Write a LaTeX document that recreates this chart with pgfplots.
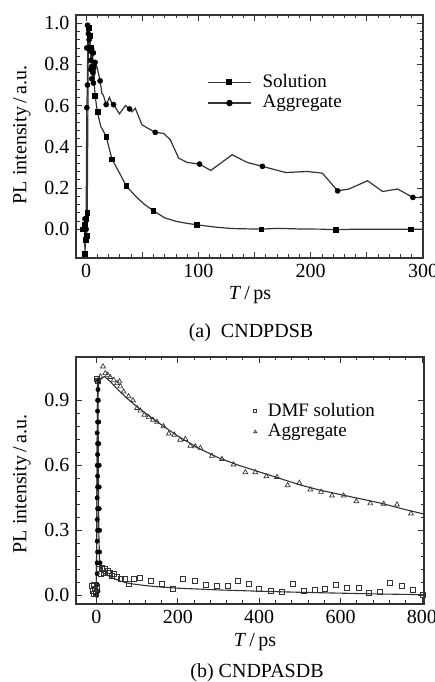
\documentclass[border=0pt]{standalone}
\usepackage{pgfplots}
\pgfplotsset{compat=1.18}
\usepackage{fontspec}
\setmainfont{Liberation Serif}
\definecolor{ink}{HTML}{333333}

\begin{document}
\fontsize{19pt}{22pt}\selectfont
\begin{tikzpicture}
\pgfplotsset{
  every axis/.append style={
    scale only axis, anchor=south west,
    axis line style={ink, line width=1.1pt},
    every tick/.style={ink, line width=0.8pt},
    tick align=inside,
    major tick length=6pt, minor tick length=3.5pt,
    minor tick num=4,
    /pgf/number format/assume math mode=true,
    tick label style={font=\fontsize{20}{22}\selectfont},
    yticklabel style={/pgf/number format/.cd, fixed, fixed zerofill, precision=1},
    legend style={draw=none, fill=none, font=\fontsize{19}{22}\selectfont,
      row sep=1pt, inner sep=0pt,
      /tikz/every odd column/.append style={column sep=9pt}},
    legend cell align=left,
    clip=true,
  },
}

% ---------- (a) CNDPDSB ----------
\begin{axis}[
  at={(76pt,424pt)}, width=347pt, height=243pt,
  xmin=-9, xmax=300, ymin=-0.14, ymax=1.04,
  xtick={0,50,...,300}, xticklabels={0,,100,,200,,300},
  ytick={0,0.2,...,1.0},
  legend style={at={(0.378,0.765)}, anchor=north west},
  legend image code/.code={\draw[#1, mark repeat=2, mark phase=2]
    plot coordinates {(0pt,0pt) (21.5pt,0pt) (43pt,0pt)};},
]
\addlegendimage{ink, line width=1.2pt, mark=square*, mark size=2.4pt, mark options={black}}
\addlegendentry{Solution}
\addlegendimage{ink, line width=1.2pt, mark=*, mark size=2.6pt, mark options={black}}
\addlegendentry{Aggregate}
% Solution line
\addplot[ink, line width=1.2pt, forget plot] coordinates {
  (-3,0.0) (-1.5,0.02) (-1,-0.12) (0,0.05) (0.5,-0.03) (1,0.08)
  (1.5,0.5) (2,0.98) (2.5,0.99) (3,0.94) (4,0.88) (5,0.83) (6,0.79)
  (7,0.72) (8,0.65) (10,0.57) (13,0.50) (17.9,0.45) (23,0.34) (30,0.27)
  (35.7,0.21) (45,0.155) (52,0.12) (59.8,0.09) (70,0.055) (80,0.038)
  (90,0.028) (98.8,0.021) (115,0.01) (130,0.003) (156,0.0) (170,0.004)
  (190,0.001) (210,0.0) (222,-0.003) (240,0.0) (260,0.0) (289,0.0) (300,0.0)
};
\addplot[only marks, mark=square*, mark size=2.4pt, black, forget plot] coordinates {
  (-3,0.0) (-1.5,0.02) (-1,-0.12) (-0.5,-0.05) (0,0.05) (0.5,-0.03) (1,0.08)
  (2,0.98) (3,0.94) (4,0.88) (6,0.79) (8,0.65) (10,0.57) (17.9,0.45)
  (23,0.34) (35.7,0.21) (59.8,0.09) (98.8,0.021) (156,0.0) (222,-0.003) (289,0.0)
};
% Aggregate line
\addplot[ink, line width=1.2pt, forget plot] coordinates {
  (-3,0.0) (-1,0.05) (0,0.0) (0.6,0.59) (1.2,0.70) (1.5,0.99) (2,0.95)
  (2.7,0.92) (3,0.88) (4.2,0.864) (4.2,0.82) (6.5,0.856) (5,0.79) (8,0.81)
  (4.2,0.775) (6,0.76) (5,0.73) (6.5,0.71) (9,0.80) (10,0.78) (12.5,0.72)
  (14,0.66) (15.4,0.65) (17.9,0.605) (20.8,0.64) (23,0.61) (24.4,0.605)
  (29.7,0.56) (35,0.60) (38.7,0.584) (41,0.57) (43.8,0.587) (49.7,0.507)
  (55,0.49) (61.6,0.47) (69,0.465) (75,0.434) (82.4,0.345) (90,0.324)
  (101,0.316) (111,0.285) (130,0.361) (143.5,0.324) (157,0.305)
  (177.7,0.275) (197,0.28) (210.4,0.272) (224,0.186) (234,0.195)
  (250.6,0.235) (264,0.183) (277.4,0.195) (291,0.154) (300,0.154)
};
\addplot[only marks, mark=*, mark size=2.6pt, black, forget plot] coordinates {
  (-2,0.0) (-1,0.05) (0,0.0) (0.6,0.59) (1.2,0.70) (1.2,0.99) (2,0.95)
  (2.7,0.92) (0.6,0.88) (4.2,0.864) (6.5,0.856) (4.2,0.82) (8,0.81)
  (5,0.79) (4.2,0.775) (6,0.76) (5,0.73) (6.5,0.71) (12.5,0.72)
  (17.9,0.605) (24.4,0.605) (38.7,0.584) (61.6,0.47) (101,0.316)
  (157,0.305) (224,0.186) (291,0.154)
};
\end{axis}

% ---------- (b) CNDPASDB ----------
\begin{axis}[
  at={(76pt,78pt)}, width=348pt, height=247pt,
  xmin=-50, xmax=805, ymin=-0.04, ymax=1.1,
  xtick={0,200,...,800},
  ytick={0,0.3,0.6,0.9},
  legend style={at={(0.51,0.822)}, anchor=north west},
  legend image code/.code={\draw[#1] plot coordinates {(0pt,0pt)};},
]
\addlegendimage{only marks, mark=square, mark size=1.5pt, ink, line width=0.7pt}
\addlegendentry{DMF solution}
\addlegendimage{only marks, mark=triangle, mark size=1.8pt, ink, line width=0.7pt}
\addlegendentry{Aggregate}
% dense early-time points
\addplot[only marks, mark=*, mark size=2.2pt, black, forget plot] coordinates {
  (2,0.05) (2,0.10) (2,0.15) (3,0.20) (2,0.25) (3,0.30) (2,0.35) (3,0.40)
  (2,0.45) (3,0.50) (3,0.55) (2,0.60) (3,0.65) (3,0.70) (2,0.75) (3,0.80)
  (3,0.85) (3,0.90) (4,0.95) (5,0.90) (6,0.80) (6,0.70) (7,0.60) (7,0.50)
  (7,0.40) (8,0.30) (8,0.20) (9,0.15) (5,0.99) (4,0.02) (1,0.0)
};
% DMF solution
\addplot[only marks, mark=square, mark size=2.5pt, ink, line width=0.7pt, forget plot] coordinates {
  (-10,0.045) (-8,0.02) (-6,0.05) (-5,0.005) (-3,0.03) (-2,0.01) (0,0.04)
  (2,1.0) (4,0.99) (5.7,0.12) (10,0.10) (14,0.127) (18,0.105) (22,0.12)
  (28,0.112) (34,0.104) (38,0.09) (42.6,0.097) (50.8,0.086) (59,0.077)
  (69,0.074) (79,0.055) (93,0.074) (108,0.081) (134,0.066) (161,0.054)
  (187.5,0.028) (213,0.074) (241,0.066) (268,0.048) (295,0.043)
  (322.6,0.043) (347,0.066) (374,0.055) (400,0.031) (429,0.02) (456,0.015)
  (482,0.054) (509,0.02) (536,0.025) (562.5,0.031) (589.5,0.048) (616,0.035)
  (644,0.035) (669,0.012) (696,0.015) (722,0.058) (751,0.046) (777,0.025)
  (802,0.0)
};
% Aggregate
\addplot[only marks, mark=triangle, mark size=2.8pt, ink, line width=0.7pt, forget plot] coordinates {
  (9.8,1.01) (16.4,1.056) (22,1.025) (28,1.017) (34,1.007) (42.6,0.994)
  (50.8,0.979) (57,0.987) (59,0.964) (67,0.94) (79,0.918) (90,0.90)
  (100,0.864) (108,0.852) (118,0.833) (128.5,0.822) (139,0.81) (149,0.80)
  (165,0.78) (178,0.746) (191.6,0.741) (206,0.718) (218.6,0.721)
  (231,0.69) (243,0.687) (255.5,0.68) (284,0.644) (308.7,0.629)
  (337,0.603) (366,0.568) (390.6,0.568) (417.6,0.549) (443.8,0.546)
  (470,0.508) (498.6,0.519) (525.7,0.488) (552,0.477) (579,0.46)
  (607.5,0.46) (638.7,0.434) (673,0.424) (705.8,0.422) (738.6,0.419)
  (773,0.377)
};
% fitted curves
\addplot[ink, line width=1.1pt, forget plot] coordinates {
  (-5,0.0) (0,0.02) (1.5,0.5) (3,0.9) (6,0.98) (12,1.0) (20,1.01)
  (35,0.985) (50,0.955) (75,0.91) (100,0.87) (150,0.80) (200,0.735)
  (250,0.68) (300,0.635) (350,0.60) (400,0.57) (450,0.54) (500,0.51)
  (550,0.485) (600,0.465) (650,0.445) (700,0.425) (750,0.40) (805,0.375)
};
\addplot[ink, line width=1.1pt, forget plot] coordinates {
  (-5,0.0) (0,0.02) (2,0.6) (3,1.0) (4,0.9) (5,0.6) (6,0.3) (8,0.15)
  (12,0.11) (20,0.10) (40,0.08) (60,0.065) (80,0.055) (120,0.045)
  (160,0.038) (200,0.033) (300,0.025) (400,0.019) (500,0.014)
  (600,0.01) (700,0.006) (805,0.003)
};
\end{axis}

% axis titles and captions
\node[rotate=90, font=\fontsize{20}{22}\selectfont] at (22pt,547pt) {PL intensity\,/\,a.u.};
\node[rotate=90, font=\fontsize{20}{22}\selectfont] at (22pt,198pt) {PL intensity\,/\,a.u.};
\node[font=\fontsize{20}{22}\selectfont] at (250pt,387pt) {\itshape T\/\upshape\,/\,ps};
\node[font=\fontsize{20}{22}\selectfont] at (255pt,40pt) {\itshape T\/\upshape\,/\,ps};
\node[font=\fontsize{20}{22}\selectfont] at (251pt,349pt) {(a)\ \ CNDPDSB};
\node[font=\fontsize{20}{22}\selectfont] at (257pt,9pt) {(b) CNDPASDB};
\pgfresetboundingbox
\path[use as bounding box] (0pt,0pt) rectangle (435pt,682pt);
\end{tikzpicture}
\end{document}
